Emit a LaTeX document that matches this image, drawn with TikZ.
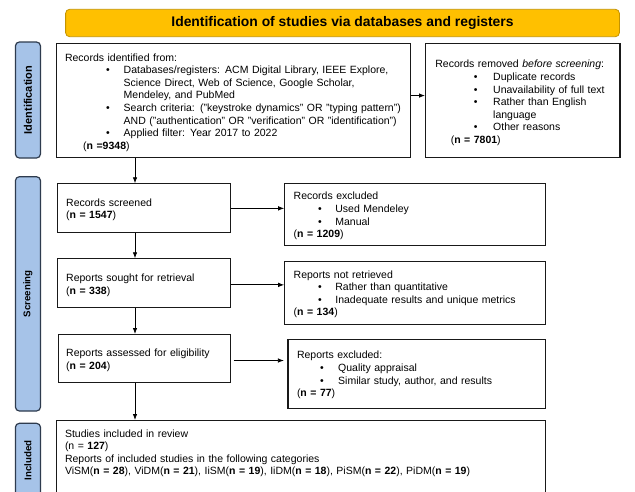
\documentclass[tikz,border=0pt]{standalone}
\usepackage{fontspec}
\setmainfont{Liberation Sans}
\usetikzlibrary{arrows.meta}
\definecolor{hdrfill}{HTML}{FFC000}
\definecolor{hdrdraw}{HTML}{C49300}
\definecolor{sidefill}{HTML}{A6C3E8}
\definecolor{sidedraw}{HTML}{2E3B4E}
\newcommand\bu[2]{\hspace*{#1}\makebox[#2][l]{\textbullet}}
\begin{document}
\begin{tikzpicture}[x=1pt,y=1pt,
  box/.style={draw=black!90, line width=1.1pt, anchor=north west, inner sep=0pt},
  hdr/.style={draw=hdrdraw, fill=hdrfill, line width=0.8pt, rounded corners=4pt, inner sep=0pt,
    font=\fontsize{13.9}{16}\selectfont\bfseries},
  side/.style={draw=sidedraw, fill=sidefill, line width=1.2pt, rounded corners=4pt, inner sep=0pt,
    rotate=90, font=\fontsize{9.7}{11}\selectfont\bfseries},
  txt/.style={anchor=base west, inner sep=0pt, text width=480pt, align=left,
    font=\fontsize{10.5}{12.65}\selectfont},
  arr/.style={-{Latex[length=6pt,width=4.5pt]}, line width=0.8pt}]
\useasboundingbox (0,0) rectangle (635,-491);
\fill[white] (0,0) rectangle (635,-491);

% header
\node[hdr, minimum width=553.8pt, minimum height=27.4pt] (hd) at (342.5,-23) {Identification of studies via databases and registers};

% side bars
\node[side, minimum width=116pt, minimum height=25.1pt, font=\fontsize{11}{12}\selectfont\bfseries] (sI) at (27.95,-100) {Identification};
\node[side, minimum width=234.3pt, minimum height=25.1pt] (sS) at (27.95,-293.85) {Screening};
\node[side, minimum width=73.7pt, minimum height=25.1pt] (sN) at (27.95,-460.15) {Included};

% boxes
\node[box, minimum width=354.1pt, minimum height=113.4pt] (b1) at (55.9,-43.3) {};
\node[box, minimum width=194.4pt, minimum height=114pt] (rem) at (425,-43) {};
\node[box, minimum width=173.3pt, minimum height=49pt] (scr) at (56.7,-183.3) {};
\node[box, minimum width=260.3pt, minimum height=61.7pt] (exc) at (284.2,-183.3) {};
\node[box, minimum width=173pt, minimum height=48.4pt] (sou) at (57,-258.3) {};
\node[box, minimum width=260.3pt, minimum height=63.6pt] (nre) at (284.2,-260.7) {};
\node[box, minimum width=172.5pt, minimum height=48.3pt] (ass) at (57.5,-334) {};
\node[box, minimum width=257.9pt, minimum height=69.3pt] (rex) at (287.4,-339) {};
\node[box, minimum width=489pt, minimum height=90pt] (inc) at (55.5,-420) {};

% texts
\node[txt] (t1) at (64.8,-61) {Records identified from:\\
\bu{41pt}{17.7pt}Databases/registers: ACM Digital Library, IEEE Explore,\\
\hspace*{58.7pt}Science Direct, Web of Science, Google Scholar,\\
\hspace*{58.7pt}Mendeley, and PubMed\\
\bu{41pt}{17.7pt}Search criteria: ("keystroke dynamics" OR "typing pattern")\\
\hspace*{58.7pt}AND ("authentication" OR "verification" OR "identification")\\
\bu{41pt}{17.7pt}Applied filter: Year 2017 to 2022\\
\hspace*{18.2pt}(\textbf{n =9348})};

\node[txt] (t2) at (435.2,-67.7) {Records removed \textit{before screening}:\\
\bu{38.5pt}{19.3pt}Duplicate records\\
\bu{38.5pt}{19.3pt}Unavailability of full text\\
\bu{38.5pt}{19.3pt}Rather than English\\
\hspace*{57.8pt}language\\
\bu{38.5pt}{19.3pt}Other reasons\\
\hspace*{15.4pt}(\textbf{n = 7801})};

\node[txt] (t3) at (66,-206) {Records screened\\(\textbf{n = 1547})};

\node[txt] (t4) at (293.5,-199.7) {Records excluded\\
\bu{24.3pt}{17.4pt}Used Mendeley\\
\bu{24.3pt}{17.4pt}Manual\\
(\textbf{n = 1209})};

\node[txt] (t5) at (66,-281.4) {Reports sought for retrieval\\(\textbf{n = 338})};

\node[txt] (t6) at (293.5,-278) {Reports not retrieved\\
\bu{24.3pt}{17.4pt}Rather than quantitative\\
\bu{24.3pt}{17.4pt}Inadequate results and unique metrics\\
(\textbf{n = 134})};

\node[txt] (t7) at (66,-356.4) {Reports assessed for eligibility\\(\textbf{n = 204})};

\node[txt] (t8) at (296.8,-358.7) {Reports excluded:\\
\bu{23pt}{18.2pt}Quality appraisal\\
\bu{23pt}{18.2pt}Similar study, author, and results\\
(\textbf{n = 77})};

\node[txt] (t9) at (64.8,-437) {Studies included in review\\
(n = \textbf{127})\\
Reports of included studies in the following categories\\
ViSM(\textbf{n = 28}), ViDM(\textbf{n = 21}), IiSM(\textbf{n = 19}), IiDM(\textbf{n = 18}), PiSM(\textbf{n = 22}), PiDM(\textbf{n = 19})};

% connectors
\coordinate (sp) at (135,0);
\draw[arr] ([yshift=5pt]b1.east) -- ([yshift=5pt]b1.east -| rem.west);
\draw[arr] (scr.east) -- (scr.east -| exc.west);
\draw[arr] ([yshift=-1.8pt]sou.east) -- ([yshift=-1.8pt]sou.east -| nre.west);
\draw[arr] ([xshift=2.5pt,yshift=-1.8pt]ass.east) -- ([xshift=-3.5pt,yshift=-1.8pt]ass.east -| rex.west);
\draw[arr] (b1.south -| sp) -- (scr.north -| sp);
\draw[arr] (scr.south -| sp) -- (sou.north -| sp);
\draw[arr] (sou.south -| sp) -- (ass.north -| sp);
\draw[arr] (ass.south -| sp) -- (inc.north -| sp);
\end{tikzpicture}
\end{document}
